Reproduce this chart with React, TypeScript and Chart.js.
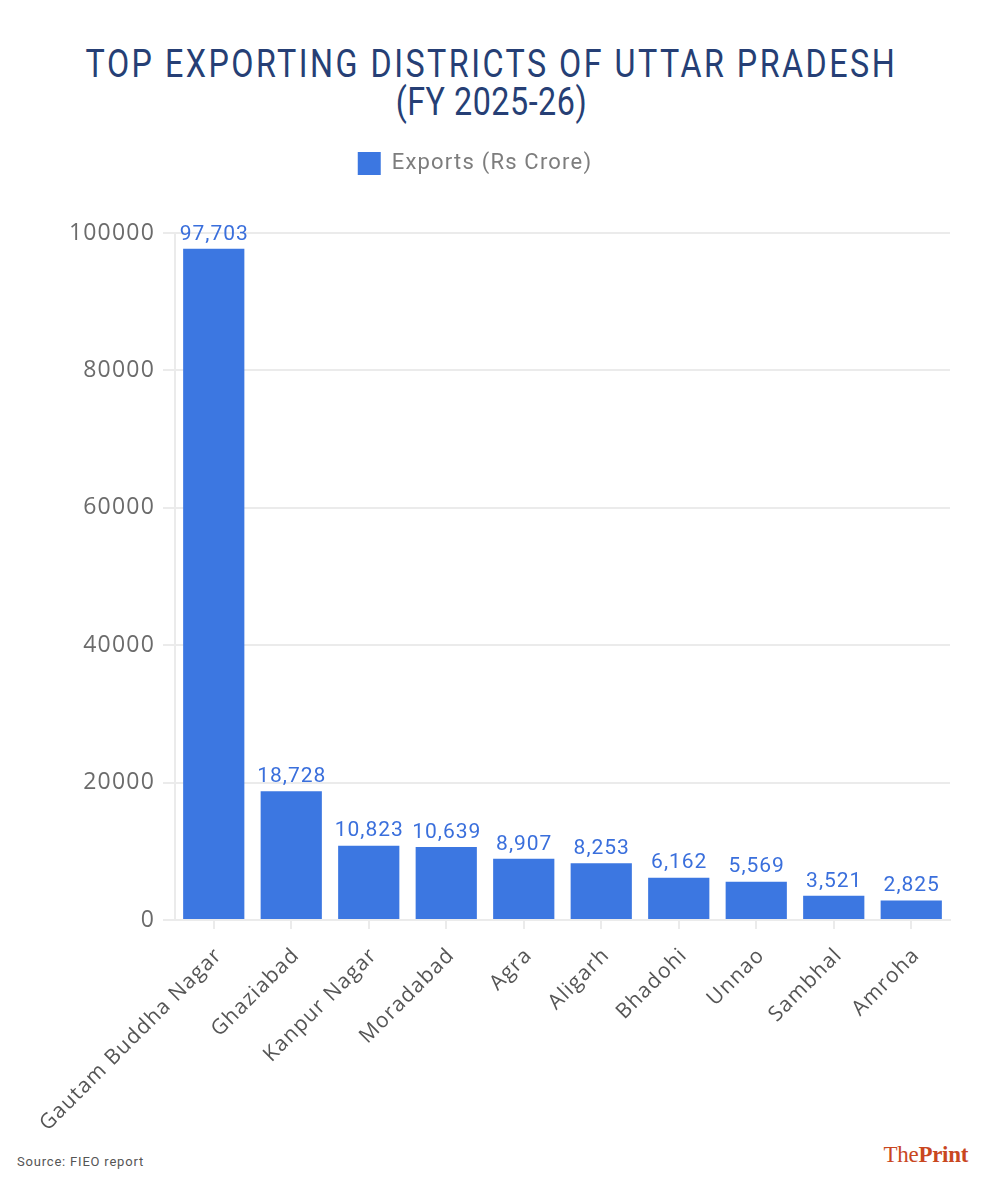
import React, { useEffect, useRef } from "react";
import { Chart, registerables, layouts } from "chart.js";

Chart.register(...registerables);

const districts = [
  "Gautam Buddha Nagar",
  "Ghaziabad",
  "Kanpur Nagar",
  "Moradabad",
  "Agra",
  "Aligarh",
  "Bhadohi",
  "Unnao",
  "Sambhal",
  "Amroha",
];

const exportsRsCrore = [97703, 18728, 10823, 10639, 8907, 8253, 6162, 5569, 3521, 2825];

const seriesLabel = "Exports (Rs Crore)";
const titleLines = ["TOP EXPORTING DISTRICTS OF UTTAR PRADESH", "(FY 2025-26)"];
const sourceNote = "Source: FIEO report";

const BAR_BLUE = "#3c77e1";
const LABEL_BLUE = "#3a6fdc";
const GRID = "#ebebeb";

// Empty layout box that keeps some air between the legend and the plot.
const legendGap = {
  id: "legendGap",
  start(chart: any) {
    const box: any = {
      position: "top",
      weight: 500,
      fullSize: true,
      options: {},
      top: 0,
      left: 0,
      right: 0,
      bottom: 0,
      width: 0,
      height: 0,
      isHorizontal() {
        return true;
      },
      update(maxWidth: number) {
        this.width = maxWidth;
        this.height = 48;
      },
      draw() {},
    };
    layouts.addBox(chart, box);
  },
};

// Slightly tracked-out lettering for the axis and legend text.
const tracking = {
  id: "tracking",
  beforeUpdate(chart: any) {
    (chart.ctx as any).letterSpacing = "1.2px";
  },
  beforeDraw(chart: any) {
    (chart.ctx as any).letterSpacing = "1.2px";
  },
  afterDraw(chart: any) {
    (chart.ctx as any).letterSpacing = "0px";
  },
};

// Value printed above each bar.
const barValues = {
  id: "barValues",
  afterDatasetsDraw(chart: any) {
    const { ctx } = chart;
    const meta = chart.getDatasetMeta(0);
    const values = chart.data.datasets[0].data as number[];
    ctx.save();
    ctx.font = "21px Roboto";
    (ctx as any).letterSpacing = "1px";
    ctx.fillStyle = LABEL_BLUE;
    ctx.textAlign = "center";
    ctx.textBaseline = "bottom";
    meta.data.forEach((bar: any, i: number) => {
      ctx.fillText(values[i].toLocaleString("en-US"), bar.x + 0.5, bar.y - 4);
    });
    ctx.restore();
  },
};

export default function App() {
  const canvasRef = useRef<HTMLCanvasElement | null>(null);

  useEffect(() => {
    if (!canvasRef.current) return;
    const chart = new Chart(canvasRef.current, {
      type: "bar",
      data: {
        labels: districts,
        datasets: [
          {
            label: seriesLabel,
            data: exportsRsCrore,
            backgroundColor: BAR_BLUE,
            borderColor: BAR_BLUE,
            borderWidth: 0,
            barPercentage: 0.79,
            categoryPercentage: 1,
          },
        ],
      },
      options: {
        animation: false,
        responsive: false,
        maintainAspectRatio: false,
        layout: { padding: { left: 0, right: 33, top: 0, bottom: 0 } },
        plugins: {
          legend: {
            position: "top",
            labels: {
              boxWidth: 23,
              boxHeight: 23,
              padding: 12,
              color: "#7d7d7d",
              font: { family: "Roboto, sans-serif", size: 22 },
            },
          },
          tooltip: { enabled: false },
        },
        scales: {
          x: {
            grid: {
              display: true,
              drawOnChartArea: false,
              drawTicks: true,
              offset: false,
              tickLength: 9,
              color: GRID,
              lineWidth: 2,
            },
            border: { display: true, color: GRID, width: 2 },
            ticks: {
              minRotation: 45,
              maxRotation: 45,
              autoSkip: false,
              padding: 14,
              labelOffset: 5,
              color: "#555555",
              font: { family: "'Open Sans', sans-serif", size: 21 },
            },
            afterFit(scale: any) {
              scale.height = 220;
            },
          },
          y: {
            min: 0,
            max: 100000,
            grid: { color: GRID, lineWidth: 2, tickLength: 12 },
            border: { display: true, color: GRID, width: 2 },
            ticks: {
              stepSize: 20000,
              padding: 8,
              color: "#6b6b6b",
              font: { family: "'Open Sans', sans-serif", size: 23 },
              callback: (value: any) => String(value),
            },
            afterFit(scale: any) {
              scale.width = 175;
            },
          },
        },
      },
      plugins: [legendGap, tracking, barValues],
    });
    return () => chart.destroy();
  }, []);

  return (
    <div style={{ position: "absolute", left: 0, top: 0, width: 983, height: 1191, background: "#fff" }}>
      <div
        style={{
          position: "absolute",
          left: 0,
          top: 45,
          width: 983,
          textAlign: "center",
          color: "#263f75",
          fontFamily: "Roboto, sans-serif",
          fontSize: 38,
          lineHeight: "38px",
          transform: "scaleX(0.85)",
          transformOrigin: "491px 0",
        }}
      >
        <div style={{ letterSpacing: "2.9px" }}>{titleLines[0]}</div>
        <div style={{ letterSpacing: "0.6px" }}>{titleLines[1]}</div>
      </div>
      <canvas
        ref={canvasRef}
        width={983}
        height={1000}
        style={{ position: "absolute", left: 0, top: 140, width: 983, height: 1000 }}
      />
      <div
        style={{
          position: "absolute",
          left: 17,
          top: 1154,
          fontFamily: "Roboto, sans-serif",
          fontSize: 13,
          letterSpacing: "0.8px",
          color: "#555555",
        }}
      >
        {sourceNote}
      </div>
      <div
        style={{
          position: "absolute",
          right: 15,
          top: 1142,
          fontFamily: "'Liberation Serif', 'DejaVu Serif', serif",
          fontSize: 23,
          color: "#c9471f",
          letterSpacing: "-0.3px",
        }}
      >
        The<b>Print</b>
      </div>
    </div>
  );
}
